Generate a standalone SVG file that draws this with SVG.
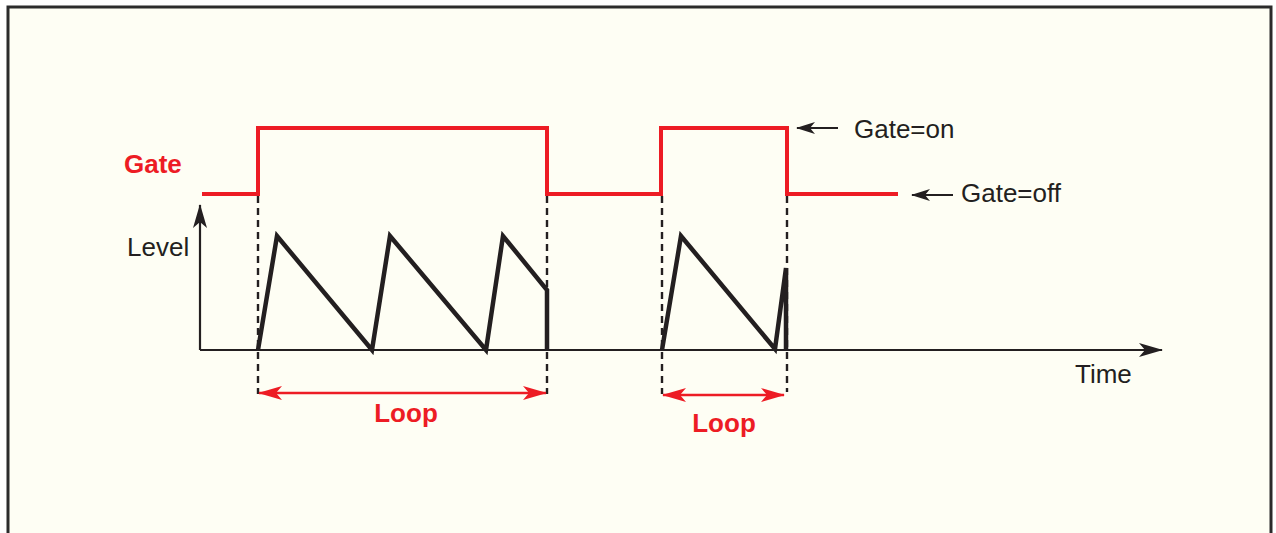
<svg xmlns="http://www.w3.org/2000/svg" width="1276" height="533" viewBox="0 0 1276 533">
<style>
.red{fill:none;stroke:#ed1c24;stroke-width:4;stroke-linejoin:miter}
.saw{fill:none;stroke:#231f20;stroke-width:4.5;stroke-linejoin:miter}
.axis{fill:none;stroke:#231f20;stroke-width:2.2}
.dash{fill:none;stroke:#231f20;stroke-width:2.4;stroke-dasharray:7,5}
.loop{fill:none;stroke:#ed1c24;stroke-width:2.4}
.ptr{fill:none;stroke:#231f20;stroke-width:2.2}
.lbl{font-family:"Liberation Sans",Arial,sans-serif;font-size:26px;fill:#231f20}
.rlbl{font-family:"Liberation Sans",Arial,sans-serif;font-size:26px;font-weight:bold;fill:#ed1c24}
</style>
<defs>
<marker id="ah" viewBox="0 0 24 14" refX="23" refY="7" markerWidth="24" markerHeight="14" markerUnits="userSpaceOnUse" orient="auto-start-reverse">
<path d="M0,0 L24,7 L0,14 L6,7 Z" fill="#231f20"/>
</marker>
<marker id="ph" viewBox="0 0 19 12" refX="18" refY="6" markerWidth="19" markerHeight="12" markerUnits="userSpaceOnUse" orient="auto-start-reverse">
<path d="M0,0 L19,6 L0,12 L5,6 Z" fill="#231f20"/>
</marker>
<marker id="rh" viewBox="0 0 24 14" refX="23" refY="7" markerWidth="24" markerHeight="14" markerUnits="userSpaceOnUse" orient="auto-start-reverse">
<path d="M0,0 L24,7 L0,14 L6,7 Z" fill="#ed1c24"/>
</marker>
</defs>
<rect x="8" y="7" width="1263" height="540" fill="#fefef4" stroke="#2b2b2b" stroke-width="3"/>
<g id="connectors">
<path class="axis" d="M200,350 V205" marker-end="url(#ah)"/>
<path class="axis" d="M200,350 H1162" marker-end="url(#ah)"/>
<path class="dash" d="M258,196 V394"/>
<path class="dash" d="M547,196 V394"/>
<path class="dash" d="M662,196 V394"/>
<path class="dash" d="M787,196 V392"/>
<path class="loop" d="M259,393 H546" marker-start="url(#rh)" marker-end="url(#rh)"/>
<path class="loop" d="M663,395 H784" marker-start="url(#rh)" marker-end="url(#rh)"/>
<path class="ptr" d="M838,128 H797" marker-end="url(#ph)"/>
<path class="ptr" d="M953,195 H912" marker-end="url(#ph)"/>
</g>
<g id="gate-signal">
<path class="red" d="M202,194 H258 V128 H547 V194 H661 V128 H787 V194 H898"/>
</g>
<g id="level-signal">
<path class="saw" d="M258,350 L277,236 L372,350 L390,236 L486,350 L503,236 L547,290 V350"/>
<path class="saw" d="M662,350 L681,236 L775,349 L786,268 V350"/>
</g>
<g id="labels">
<text class="rlbl" x="124" y="173">Gate</text>
<text class="lbl" x="127" y="256">Level</text>
<text class="lbl" x="1075" y="383">Time</text>
<text class="lbl" x="854" y="138">Gate=on</text>
<text class="lbl" x="961" y="202">Gate=off</text>
<text class="rlbl" x="406" y="422" text-anchor="middle">Loop</text>
<text class="rlbl" x="724" y="432" text-anchor="middle">Loop</text>
</g>
</svg>
